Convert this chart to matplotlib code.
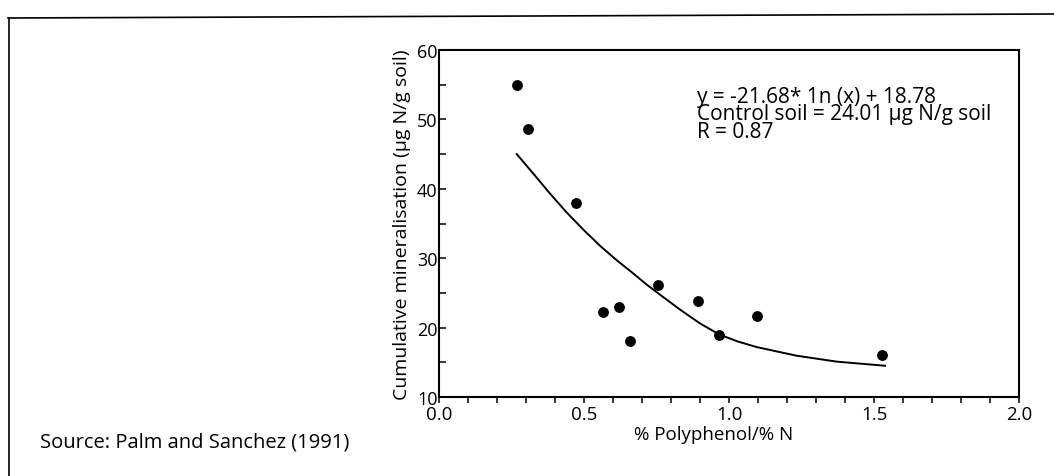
import matplotlib
matplotlib.use("Agg")
import matplotlib.pyplot as plt
from matplotlib.lines import Line2D
from matplotlib.ticker import MultipleLocator

plt.rcParams['font.family'] = ['Open Sans', 'DejaVu Sans']

# observed points (% polyphenol / % N, cumulative mineralisation)
ratio = [0.268, 0.306, 0.471, 0.567, 0.619, 0.657, 0.756, 0.893, 0.967, 1.097, 1.529]
mineral = [55.0, 48.6, 38.0, 22.3, 23.0, 18.1, 26.1, 23.9, 18.9, 21.7, 16.0]

# fitted curve as drawn in the figure
curve_x = [0.268, 0.325, 0.383, 0.440, 0.498, 0.555, 0.613, 0.670, 0.716,
           0.770, 0.831, 0.900, 0.967, 1.030, 1.095, 1.233, 1.371, 1.538]
curve_y = [45.0, 42.2, 39.3, 36.6, 34.1, 31.8, 29.7, 27.8, 26.2,
           24.5, 22.6, 20.6, 19.0, 18.0, 17.2, 15.95, 15.1, 14.5]

eq_lines = ["y = -21.68* 1n (x) + 18.78",
            "Control soil = 24.01 \u00b5g N/g soil",
            "R = 0.87"]
source = "Source: Palm and Sanchez (1991)"

fig = plt.figure(figsize=(10.54, 4.77), dpi=100)
ax = fig.add_axes([439 / 1054, 1 - 398 / 477, 580 / 1054, 347 / 477])

ax.plot(curve_x, curve_y, color='black', lw=1.4)
ax.scatter(ratio, mineral, s=46, color='black', zorder=3)

ax.set_xlim(0, 2.0)
ax.set_ylim(10, 60)
ax.xaxis.set_major_locator(MultipleLocator(0.5))
ax.xaxis.set_minor_locator(MultipleLocator(0.1))
ax.yaxis.set_major_locator(MultipleLocator(10))
ax.yaxis.set_minor_locator(MultipleLocator(5))
ax.xaxis.set_major_formatter(plt.FormatStrFormatter('%.1f'))
ax.tick_params(axis='x', which='both', direction='out', length=4, width=1.1,
               labelsize=13.5, pad=2)
ax.tick_params(axis='y', which='both', direction='in', length=5, width=1.1,
               labelsize=13, pad=1)
for s in ax.spines.values():
    s.set_linewidth(1.5)

ax.set_xlabel('% Polyphenol/% N', fontsize=13.5)
ax.xaxis.set_label_coords(0.474, -0.08)
ax.set_ylabel('Cumulative mineralisation (\u00b5g N/g soil)', fontsize=14, labelpad=4)

# equation block, tightly spaced as in the print
fig.text(697 / 1054, 1 - 87 / 477, "\n".join(eq_lines), fontsize=15,
         va='top', ha='left', linespacing=0.78)

fig.text(40 / 1054, 1 - 443 / 477, source, fontsize=14.5, va='center', ha='left')

# scanned page frame
fig.add_artist(Line2D([8 / 1054, 1.0], [1 - 19 / 477, 1 - 15 / 477],
                      transform=fig.transFigure, color='black', lw=1.2))
fig.add_artist(Line2D([9 / 1054, 9 / 1054], [1 - 19 / 477, 0.0],
                      transform=fig.transFigure, color='black', lw=1.2))

fig.savefig('out.png', dpi=100)
